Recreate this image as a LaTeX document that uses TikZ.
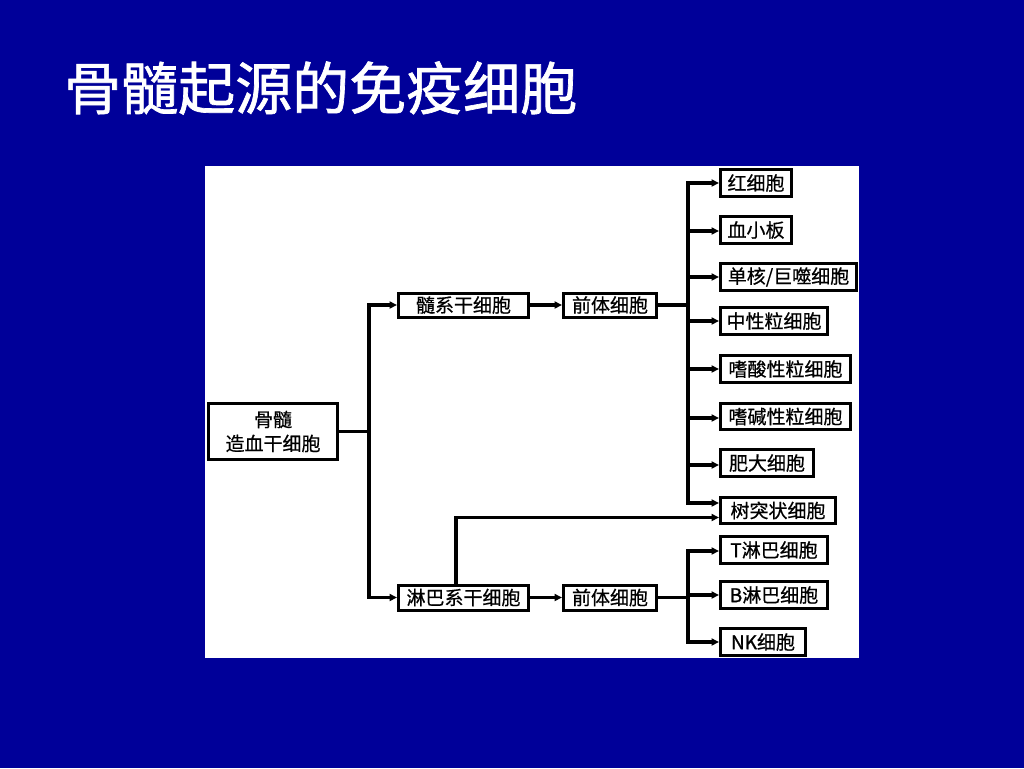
\documentclass[tikz,border=0pt]{standalone}
\usepackage{fontspec}
\newfontfamily\cjk[FakeBold=0.6]{Noto Sans CJK SC}
\newfontfamily\cjkbold[FakeBold=1.2]{Noto Sans CJK SC}
\newfontfamily\cjktitle[FakeBold=1.2]{Noto Sans CJK SC}
\usetikzlibrary{arrows.meta}
\definecolor{bgblue}{HTML}{000099}
\begin{document}
\begin{tikzpicture}[x=1pt,y=-1pt,
  box/.style={draw=black, line width=3pt, fill=white, inner sep=0pt,
    font=\cjk\fontsize{19}{24}\selectfont, text=black},
  conn/.style={line width=3.2pt, draw=black},
  arr/.style={conn, -{Triangle[length=7.5pt,width=7pt]}}]
\useasboundingbox (0,0) rectangle (1024,768);
\fill[bgblue] (0,0) rectangle (1024,768);
\fill[white] (205,166) rectangle (859,658);
\node[text=white, font=\cjktitle\fontsize{57}{64}\selectfont, anchor=west, inner sep=0pt] (title) at (64,88) {骨髓起源的免疫细胞};
% boxes
\node[box, minimum width=129pt, minimum height=56pt, align=center] (bm) at (273,431.5) {骨髓\\造血干细胞};
\node[box, minimum width=130pt, minimum height=24pt] (my) at (463.5,305) {髓系干细胞};
\node[box, minimum width=93pt, minimum height=24pt] (p1) at (610,305) {前体细胞};
\node[box, minimum width=130pt, minimum height=25pt] (ly) at (463.5,597.5) {淋巴系干细胞};
\node[box, minimum width=93pt, minimum height=25pt] (p2) at (610,597.5) {前体细胞};
\node[box, minimum width=71pt, minimum height=26.5pt] (r1) at (756,183) {红细胞};
\node[box, minimum width=71pt, minimum height=26.5pt] (r2) at (756,230) {血小板};
\node[box, minimum width=136pt, minimum height=26.5pt] (r3) at (788.5,277) {单核/巨噬细胞};
\node[box, minimum width=107pt, minimum height=26.5pt] (r4) at (774,321) {中性粒细胞};
\node[box, minimum width=130pt, minimum height=26.5pt] (r5) at (785.5,369) {嗜酸性粒细胞};
\node[box, minimum width=130pt, minimum height=26.5pt] (r6) at (785.5,416.5) {嗜碱性粒细胞};
\node[box, minimum width=93pt, minimum height=26.5pt] (r7) at (767,463) {肥大细胞};
\node[box, minimum width=115pt, minimum height=26.5pt] (r8) at (778,510.5) {树突状细胞};
\node[box, minimum width=107pt, minimum height=26.5pt] (r9) at (774,550) {{\cjkbold T}淋巴细胞};
\node[box, minimum width=107pt, minimum height=26.5pt] (r10) at (774,595) {{\cjkbold B}淋巴细胞};
\node[box, minimum width=85pt, minimum height=26.5pt] (r11) at (763,642) {{\cjkbold NK}细胞};
% coordinates
\coordinate (t0) at (369,431.5);
\coordinate (t1) at (688,305);
\coordinate (t2) at (688,597.5);
% connectors from stem cell
\draw[conn] (bm.east) -- (t0);
\draw[arr] (t0) |- (my.west);
\draw[arr] (t0) |- (ly.west);
\draw[arr] (my.east) -- (p1.west);
\draw[arr] (ly.east) -- (p2.west);
% myeloid branches
\draw[conn] (p1.east) -- (t1);
\foreach \n/\yy in {r1/183,r2/231,r3/277,r4/321,r5/369,r6/418,r7/465} {
  \draw[arr] (t1) |- (\n.west |- 0,\yy);
}
\draw[arr] (t1) |- ([yshift=7.5pt]r8.west);
% lymphoid to dendritic
\draw[arr] (ly.north -| 456,0) |- ([yshift=-7pt]r8.west);
% lymphoid branches
\draw[conn] (p2.east) -- (t2);
\draw[arr] (t2) |- ([yshift=-1pt]r9.west);
\draw[arr] (t2) |- (r10.west);
\draw[arr] (t2) |- (r11.west);
\end{tikzpicture}
\end{document}
